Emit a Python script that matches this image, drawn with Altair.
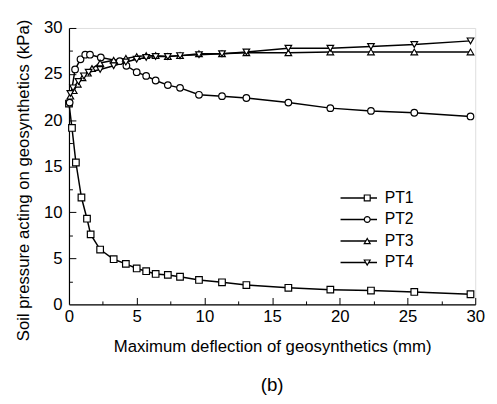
import altair as alt
import pandas as pd

# ---- data ----
pt1_x = [0.0, 0.22, 0.51, 0.92, 1.33, 1.6, 2.3, 3.3, 4.2, 5.0, 5.7, 6.4, 7.3, 8.2, 9.6, 11.3, 13.1, 16.2, 19.3, 22.3, 25.5, 29.65]
pt1_y = [21.8, 19.15, 15.4, 11.6, 9.3, 7.6, 5.95, 4.9, 4.4, 3.9, 3.6, 3.3, 3.2, 3.0, 2.65, 2.4, 2.1, 1.8, 1.6, 1.5, 1.35, 1.1]

pt2_x = [0.05, 0.45, 0.85, 1.2, 1.55, 2.35, 3.75, 4.24, 5.0, 5.7, 6.4, 7.3, 8.2, 9.6, 11.3, 13.1, 16.2, 19.3, 22.3, 25.5, 29.65]
pt2_y = [21.9, 25.5, 26.6, 27.1, 27.1, 26.8, 26.4, 25.9, 25.2, 24.8, 24.3, 23.8, 23.5, 22.75, 22.6, 22.4, 21.9, 21.3, 21.0, 20.8, 20.4]

pt3_x = [0.1, 0.35, 0.65, 1.0, 1.4, 1.7, 2.3, 3.3, 4.2, 5.0, 5.7, 6.4, 7.3, 8.2, 9.6, 11.3, 13.1, 16.2, 19.3, 22.3, 25.5, 29.65]
pt3_y = [22.6, 23.2, 23.9, 24.6, 25.1, 25.6, 26.2, 26.5, 26.7, 26.9, 27.0, 27.0, 26.9, 27.0, 27.2, 27.2, 27.3, 27.3, 27.4, 27.4, 27.4, 27.4]

pt4_x = [0.1, 0.3, 0.7, 1.1, 1.45, 2.3, 3.3, 4.2, 5.0, 5.7, 6.4, 7.3, 8.2, 9.6, 11.3, 13.1, 16.2, 19.3, 22.3, 25.5, 29.65]
pt4_y = [22.9, 23.5, 24.2, 24.8, 25.2, 25.5, 25.9, 26.3, 26.6, 26.8, 26.9, 26.9, 27.0, 27.1, 27.2, 27.4, 27.8, 27.8, 28.0, 28.2, 28.6]

series_names = ["PT1", "PT2", "PT3", "PT4"]
series_shapes = ["square", "circle", "triangle-up", "triangle-down"]
x_ticks_major = [0, 5, 10, 15, 20, 25, 30]
y_ticks_major = [0, 5, 10, 15, 20, 25, 30]
inner_major = [5, 10, 15, 20, 25, 30]
inner_minor = [2.5, 7.5, 12.5, 17.5, 22.5, 27.5]

rows = []
for name, xs, ys in zip(series_names, [pt1_x, pt2_x, pt3_x, pt4_x], [pt1_y, pt2_y, pt3_y, pt4_y]):
    for xv, yv in zip(xs, ys):
        rows.append({"series": name, "series_l": name, "x": xv, "y": yv})
df = pd.DataFrame(rows)

FONT = "Liberation Sans"
W, H = 413, 281
xs_scale = alt.Scale(domain=[0, 30], nice=False)
ys_scale = alt.Scale(domain=[0, 30], nice=False)
TICK = "black"

base = alt.Chart(df)

lines = base.mark_line(strokeWidth=1.5).encode(
    x=alt.X("x:Q", scale=xs_scale, axis=alt.Axis(
        values=x_ticks_major, tickSize=0, ticks=False, grid=False,
        domainColor="black", domainWidth=1.2,
        labelFont=FONT, labelFontSize=17, labelColor="black", labelPadding=4,
        labelFlush=False,
        title="Maximum deflection of geosynthetics (mm)",
        titleFont=FONT, titleFontSize=17, titleFontWeight="normal", titleColor="black",
        titleY=48, titleBaseline="alphabetic")),
    y=alt.Y("y:Q", scale=ys_scale, axis=alt.Axis(
        values=y_ticks_major, tickSize=0, ticks=False, grid=False,
        domainColor="black", domainWidth=1.2,
        labelFont=FONT, labelFontSize=17, labelColor="black", labelPadding=7,
        labelFlush=False,
        title="Soil pressure acting on geosynthetics (kPa)",
        titleFont=FONT, titleFontSize=17, titleFontWeight="normal", titleColor="black",
        titleAngle=270, titleX=-46, titleY=154.5, titleAlign="center",
        titleBaseline="middle")),
    color=alt.Color("series_l:N", scale=alt.Scale(domain=series_names, range=["black"] * 4),
                    legend=alt.Legend(
                        orient="none", legendX=286.6, legendY=164.8, title=None,
                        symbolType="M-2.6,0H2.6", symbolSize=203, symbolStrokeWidth=1.5,
                        symbolStrokeColor="black", symbolDash=[1, 0],
                        labelFont=FONT, labelFontSize=16, labelColor="black",
                        labelOffset=18.4, rowPadding=5.9, padding=0)),
)

shape_legend = alt.Legend(
    orient="none", legendX=295.2, legendY=164.8, title=None,
    symbolSize=36, symbolStrokeWidth=1.2, symbolOpacity=1,
    labelFont=FONT, labelFontSize=16, labelColor="transparent",
    labelOffset=7, rowPadding=5.9, padding=0)

points = base.mark_point(filled=True, fill="white", strokeWidth=1.2, size=45,
                         opacity=1, fillOpacity=1, strokeOpacity=1).encode(
    x=alt.X("x:Q", scale=xs_scale, axis=alt.Axis(
        orient="top", offset=-H, values=inner_major, tickSize=7, tickColor=TICK,
        tickWidth=1, labels=False, domain=False, grid=False, title=None)),
    y=alt.Y("y:Q", scale=ys_scale, axis=alt.Axis(
        orient="right", offset=-W, values=inner_major, tickSize=7, tickColor=TICK,
        tickWidth=1, labels=False, domain=False, grid=False, title=None)),
    shape=alt.Shape("series:N", scale=alt.Scale(domain=series_names, range=series_shapes),
                    legend=shape_legend),
    stroke=alt.Stroke("series:N", scale=alt.Scale(domain=series_names, range=["black"] * 4),
                      legend=shape_legend),
)

minor = base.mark_point(opacity=0).encode(
    x=alt.X("x:Q", scale=xs_scale, axis=alt.Axis(
        orient="top", offset=-H, values=inner_minor, tickSize=3.5, tickColor=TICK,
        tickWidth=1, labels=False, domain=False, grid=False, title=None)),
    y=alt.Y("y:Q", scale=ys_scale, axis=alt.Axis(
        orient="right", offset=-W, values=inner_minor, tickSize=3.5, tickColor=TICK,
        tickWidth=1, labels=False, domain=False, grid=False, title=None)),
)

chart = alt.layer(lines, points, minor).resolve_axis(
    x="independent", y="independent"
).resolve_legend(color="independent", shape="independent", stroke="independent").properties(
    width=W, height=H,
    autosize=alt.AutoSizeParams(type="none"),
    padding={"left": 62, "top": 17, "right": 14, "bottom": 100},
    title=alt.TitleParams(text="(b)", orient="bottom", font=FONT, fontSize=19,
                          fontWeight="normal", color="black", offset=22, anchor="middle"),
).configure_view(stroke=None).configure(background="white")

chart.save("out.html", embed_options={"renderer": "svg", "actions": False})
